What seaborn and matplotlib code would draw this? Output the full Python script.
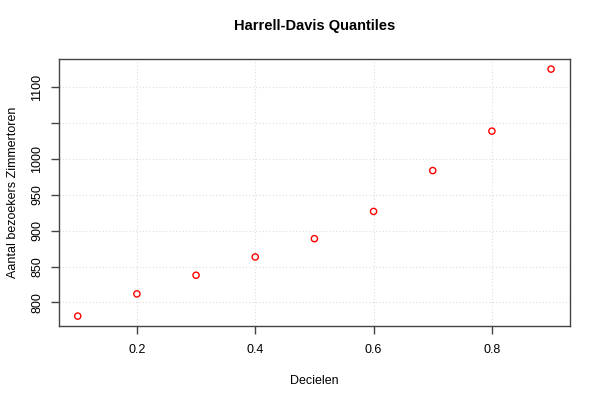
import matplotlib
matplotlib.use("Agg")
import matplotlib.pyplot as plt
import seaborn as sns

# deciles and Harrell-Davis quantile estimates
decielen = [0.1, 0.2, 0.3, 0.4, 0.5, 0.6, 0.7, 0.8, 0.9]
quantiles = [781, 812, 838, 863.5, 889, 927, 984, 1039, 1125.5]

x_ticks = [0.2, 0.4, 0.6, 0.8]
x_labels = ["0.2", "0.4", "0.6", "0.8"]
y_ticks = [800, 850, 900, 950, 1000, 1050, 1100]
y_labels = ["800", "850", "900", "950", "1000", "", "1100"]

sns.set_style("white")
plt.rcParams["font.family"] = ["Liberation Sans", "DejaVu Sans"]
plt.rcParams["text.color"] = "black"
plt.rcParams["axes.labelcolor"] = "black"
plt.rcParams["xtick.color"] = "black"
plt.rcParams["ytick.color"] = "black"

fig = plt.figure(figsize=(6, 4), dpi=100)
ax = fig.add_axes([0.098, 0.185, 0.852, 0.6675])

sns.scatterplot(x=decielen, y=quantiles, ax=ax, marker="o", s=20,
                facecolor="none", edgecolor="red", linewidth=1, zorder=3)

ax.set_xlim(0.068, 0.932)
ax.set_ylim(767.2, 1139.6)

ax.set_xticks(x_ticks)
ax.set_xticklabels(x_labels)
ax.set_yticks(y_ticks)
ax.set_yticklabels(y_labels, rotation=90, va="center")

ax.grid(True, color="#dddddd", linestyle=(0, (1, 2)), linewidth=0.8)
ax.set_axisbelow(True)

for s in ax.spines.values():
    s.set_color("#444444")
    s.set_linewidth(1)
ax.tick_params(axis="both", direction="out", length=6, width=1, color="#444444",
               labelsize=9, left=True, bottom=True)
ax.tick_params(axis="x", pad=7)
ax.tick_params(axis="y", pad=5)

ax.set_xlabel("Decielen", fontsize=9, labelpad=14)
ax.set_ylabel("Aantal bezoekers Zimmertoren", fontsize=9, labelpad=9)
ax.set_title("Harrell-Davis Quantiles", fontsize=10.5, fontweight="bold", pad=21)

fig.savefig("out.png", dpi=100)
plt.close(fig)
